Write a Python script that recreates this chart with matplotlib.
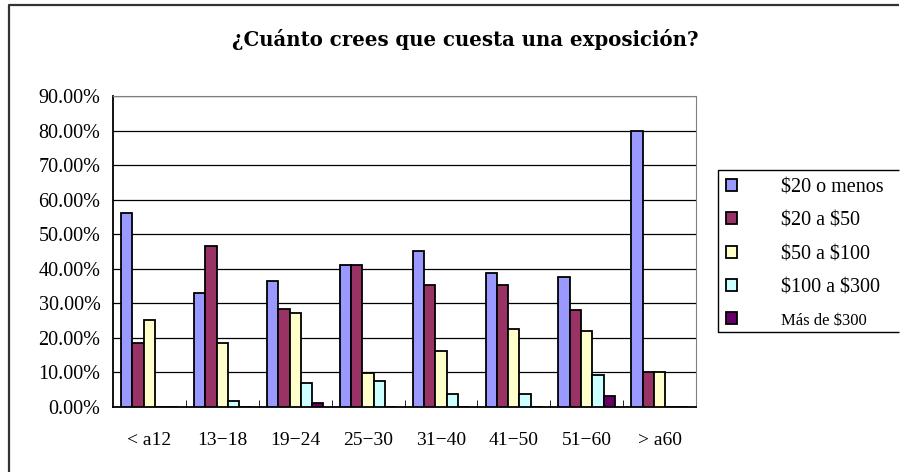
import matplotlib
matplotlib.use('Agg')
import matplotlib.pyplot as plt
from matplotlib.patches import Patch
from matplotlib.lines import Line2D
import numpy as np

groups = ['< a12', '13−18', '19−24', '25−30', '31−40', '41−50', '51−60', '> a60']
series = ['\\$20 o menos', '\\$20 a \\$50', '\\$50 a \\$100', '\\$100 a \\$300', 'Más de \\$300']
menos20 = [56.2, 33.1, 36.5, 41.2, 45.2, 38.8, 37.7, 80.0]
de20a50 = [18.5, 46.5, 28.4, 41.2, 35.3, 35.3, 28.0, 10.0]
de50a100 = [25.1, 18.5, 27.2, 9.8, 16.2, 22.7, 22.1, 10.0]
de100a300 = [0, 1.7, 7.0, 7.5, 3.7, 3.7, 9.3, 0]
mas300 = [0, 0, 1.2, 0, 0, 0, 3.1, 0]
colors = ['#9999FF', '#993366', '#FFFFCC', '#CCFFFF', '#660066']

plt.rcParams['font.family'] = ['Liberation Serif', 'DejaVu Serif']

fig = plt.figure(figsize=(9, 4.72), dpi=100)
ax = fig.add_axes([113/900, 1-407/472, (696-113)/900, (407-96)/472])

x = np.arange(len(groups))
w = 0.155
allvals = [menos20, de20a50, de50a100, de100a300, mas300]
for i, vals in enumerate(allvals):
    ax.bar(x + (i-2)*w, vals, w, color=colors[i], edgecolor='black', linewidth=1.3, zorder=3)

ax.set_xlim(-0.5, len(groups)-0.5)
ax.set_ylim(0, 90)
ax.set_yticks(np.arange(0, 91, 10))
ax.set_yticklabels(['%.2f%%' % v for v in np.arange(0, 91, 10)], fontsize=14.5)
ax.yaxis.grid(True, color='black', linewidth=0.9, zorder=0)
ax.tick_params(axis='y', length=0, pad=9)
ax.set_xticks(x)
ax.set_xticklabels(groups, fontsize=14)
ax.tick_params(axis='x', length=0, pad=18)
ax.set_xticks(np.arange(0.5, len(groups)-1, 1), minor=True)
ax.tick_params(axis='x', which='minor', direction='in', length=5, color='black')
for s in ['top', 'right']:
    ax.spines[s].set_color('#808080')
for s in ['left', 'bottom']:
    ax.spines[s].set_color('black')
    ax.spines[s].set_linewidth(1.3)

fig.text(0.517, 1-40/472, '¿Cuánto crees que cuesta una exposición?', ha='center', va='center',
         fontsize=14.2, fontweight='bold', family=['DejaVu Serif'])

handles = [Patch(facecolor=c, edgecolor='black', linewidth=1.3) for c in colors]
leg = fig.legend(handles, series, loc='upper left', bbox_to_anchor=(718/900, 1-170/472),
                 bbox_transform=fig.transFigure, fontsize=14.5, frameon=False,
                 handlelength=0.55, handleheight=0.55, handletextpad=2.2, labelspacing=0.72,
                 borderpad=0.4, borderaxespad=0)
leg.get_texts()[-1].set_fontsize(12)

# legend box runs off the right edge of the picture
lx0, ly0, ly1 = 718/900, 1-332/472, 1-170/472
fig.add_artist(Line2D([0.999, lx0, lx0, 0.999], [ly1, ly1, ly0, ly0], transform=fig.transFigure,
                      color='black', linewidth=1.0, solid_capstyle='butt'))

# outer chart border, only left and top sides are inside the picture
fig.add_artist(Line2D([9/900, 9/900, 0.999], [0.0, 1-5/472, 1-5/472], transform=fig.transFigure,
                      color='#333333', linewidth=1.6, solid_capstyle='butt'))

fig.savefig('out.png', dpi=100)
